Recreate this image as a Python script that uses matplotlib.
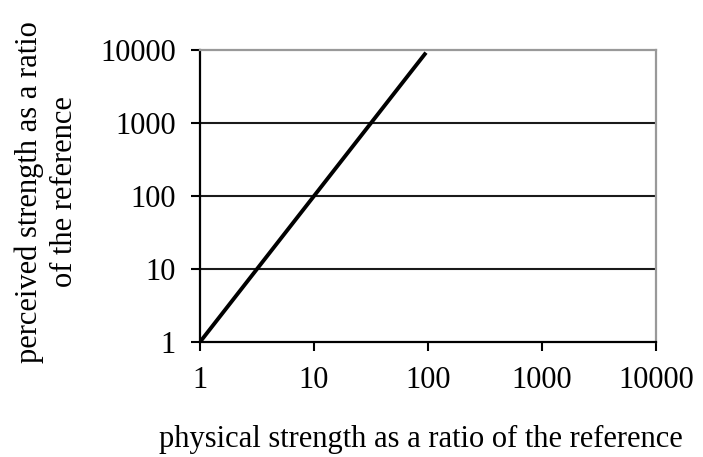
import matplotlib
matplotlib.use("Agg")
import matplotlib.pyplot as plt

physical = [1, 2, 3, 5, 7, 10, 15, 20, 30, 50, 70, 96]
perceived = [1, 4, 9, 25, 49, 100, 225, 400, 900, 2500, 4900, 9200]
ticks = [1, 10, 100, 1000, 10000]
tick_labels = ["1", "10", "100", "1000", "10000"]

plt.rcParams['font.family'] = ['Liberation Serif', 'DejaVu Serif']

W, H = 703, 457
fig = plt.figure(figsize=(W / 100, H / 100), dpi=100)
ax = fig.add_axes([200 / W, 1 - 342 / H, 456 / W, 292 / H])

ax.set_xscale('log')
ax.set_yscale('log')
ax.set_xlim(1, 10000)
ax.set_ylim(1, 10000)

for t in ticks[1:-1]:
    ax.axhline(t, color='#1a1a1a', lw=1.5, zorder=1)

ax.plot(physical, perceived, color='black', lw=2.8, zorder=3, solid_capstyle='butt')

ax.set_xticks(ticks)
ax.set_xticklabels(tick_labels)
ax.set_yticks(ticks)
ax.set_yticklabels(tick_labels)
ax.minorticks_off()
ax.tick_params(axis='both', direction='out', length=6.5, width=1.5, labelsize=22, color='black')
ax.tick_params(axis='x', pad=11)
ax.tick_params(axis='y', pad=11)

for s in ['left', 'bottom']:
    ax.spines[s].set_linewidth(1.6)
    ax.spines[s].set_color('black')
for s in ['right', 'top']:
    ax.spines[s].set_color('#999999')
    ax.spines[s].set_linewidth(1.6)

fig.text(421 / W, 1 - 447 / H, "physical strength as a ratio of the reference",
         fontsize=22, ha='center', va='baseline')
fig.text(47 / W, 1 - 192 / H, "perceived strength as a ratio\nof the reference",
         fontsize=22, ha='center', va='center', rotation=90, linespacing=1.25)

fig.savefig("out.png", dpi=100)
